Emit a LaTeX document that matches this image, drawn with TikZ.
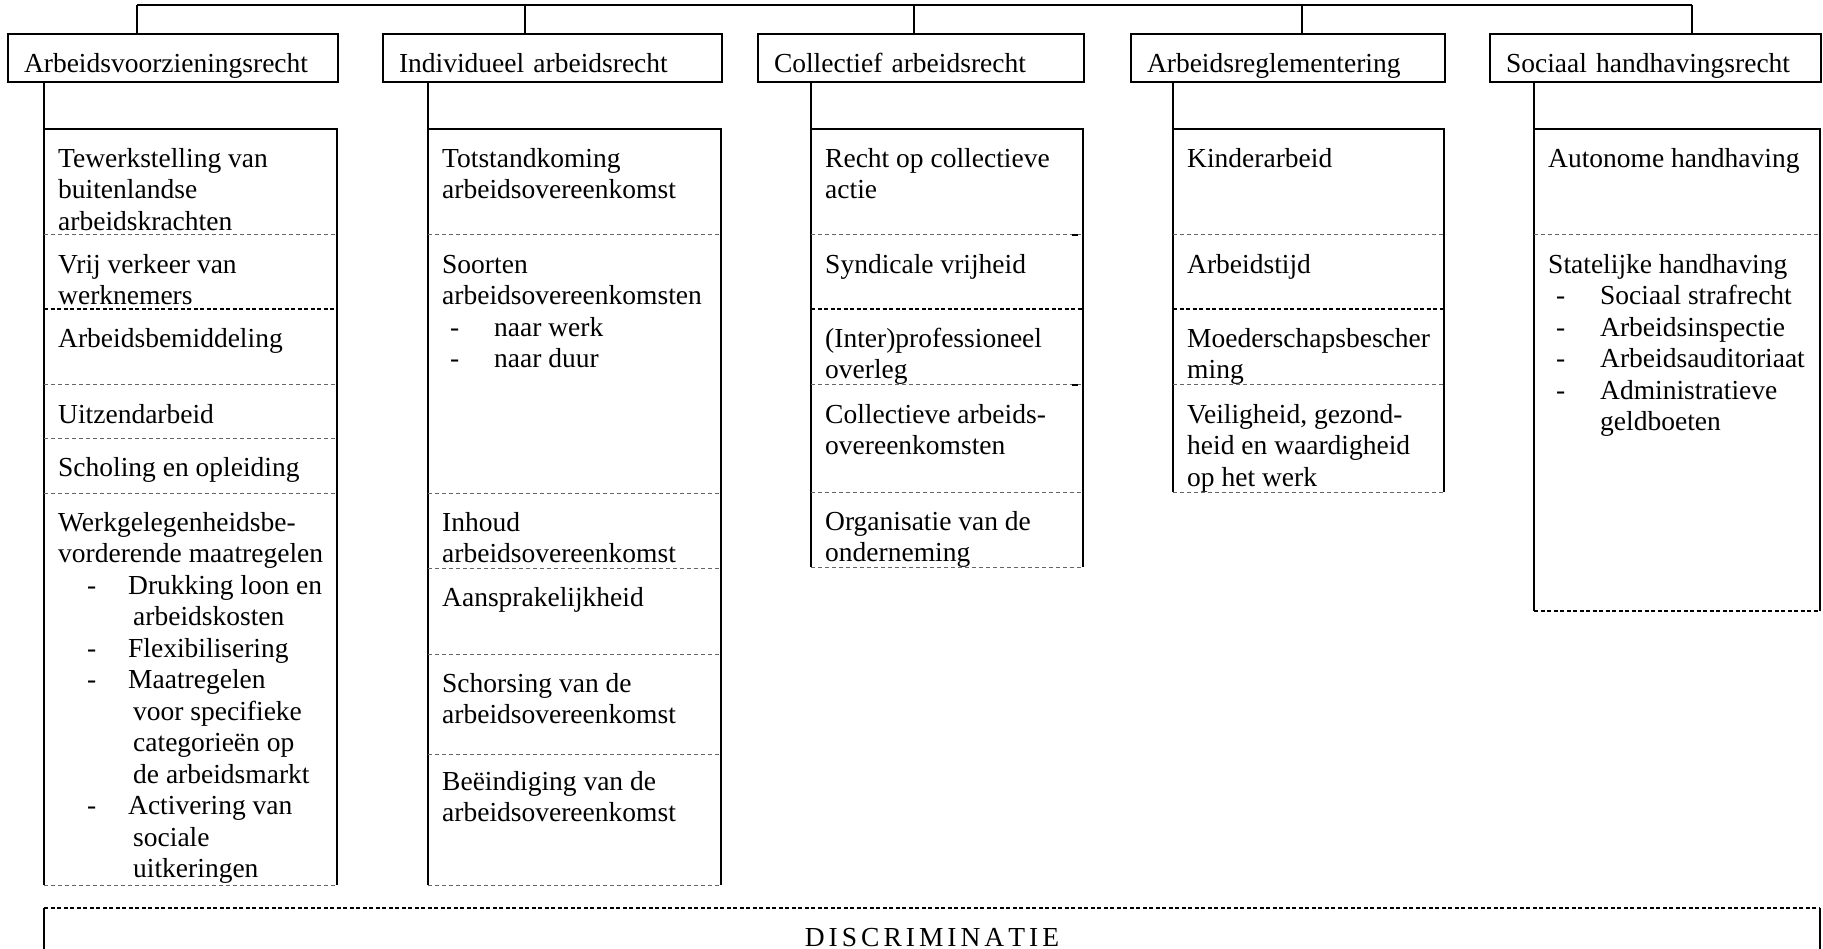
\documentclass[tikz,border=0pt]{standalone}
\usepackage{fontspec}
\setmainfont{Liberation Serif}

\newcommand{\fl}{\rule{0pt}{24pt}}
\newcommand{\itm}[1]{\hspace*{8pt}\makebox[44pt][l]{-}#1}
\newcommand{\itmw}[1]{\hspace*{29pt}\makebox[41pt][l]{-}#1}
\newcommand{\cnt}{\hspace*{75pt}}

\begin{document}
\begin{tikzpicture}[x=1pt, y=-1pt,
    hdr/.style={draw, line width=2pt, anchor=north west, minimum height=48pt,
                inner xsep=16pt, inner ysep=0pt, text height=39pt, text depth=9pt,
                align=left, font=\fontsize{27.5}{31.5}\selectfont},
    entry/.style={anchor=north west, inner sep=0pt, align=left,
                  font=\fontsize{27.5}{31.5}\selectfont},
    solidln/.style={line width=2pt},
    dashln/.style={draw=black!60, line width=1pt, dash pattern=on 4pt off 3pt},
    dashdk/.style={draw=black, line width=1.6pt, dash pattern=on 4pt off 2.5pt}
]
    \useasboundingbox (0,0) rectangle (1823,949);

    % headers
    \node[hdr, text width=298pt] (hA) at (7,33)    {Arbeidsvoorzieningsrecht};
    \node[hdr, text width=307pt] (hB) at (382,33)  {Individueel arbeidsrecht};
    \node[hdr, text width=294pt] (hC) at (757,33)  {Collectief arbeidsrecht};
    \node[hdr, text width=282pt] (hD) at (1130,33) {Arbeidsreglementering};
    \node[hdr, text width=299pt] (hE) at (1489,33) {Sociaal handhavingsrecht};

    % tree on top
    \coordinate (tA) at (137,5);
    \coordinate (tB) at (525,5);
    \coordinate (tC) at (914,5);
    \coordinate (tD) at (1302,5);
    \coordinate (tE) at (1692,5);
    \draw[solidln] (tA) -- (tE);
    \draw[solidln] (tA) -- (tA |- hA.north);
    \draw[solidln] (tB) -- (tB |- hB.north);
    \draw[solidln] (tC) -- (tC |- hC.north);
    \draw[solidln] (tD) -- (tD |- hD.north);
    \draw[solidln] (tE) -- (tE |- hE.north);

    % column frames
    \coordinate (aTL) at (44,129);   \coordinate (aTR) at (337,129);
    \coordinate (aBL) at (44,885);   \coordinate (aBR) at (337,885);
    \coordinate (bTL) at (428,129);  \coordinate (bTR) at (721,129);
    \coordinate (bBL) at (428,885);  \coordinate (bBR) at (721,885);
    \coordinate (cTL) at (811,129);  \coordinate (cTR) at (1083,129);
    \coordinate (cBL) at (811,567);  \coordinate (cBR) at (1083,567);
    \coordinate (dTL) at (1173,129); \coordinate (dTR) at (1444,129);
    \coordinate (dBL) at (1173,492); \coordinate (dBR) at (1444,492);
    \coordinate (eTL) at (1534,129); \coordinate (eTR) at (1820,129);
    \coordinate (eBL) at (1534,611); \coordinate (eBR) at (1820,611);

    \draw[solidln] (aTL |- hA.south) -- (aBL);
    \draw[solidln] (aTL) -- (aTR) -- (aBR);
    \draw[dashln] (aBL) -- (aBR);
    \draw[solidln] (bTL |- hB.south) -- (bBL);
    \draw[solidln] (bTL) -- (bTR) -- (bBR);
    \draw[dashln] (bBL) -- (bBR);
    \draw[solidln] (cTL |- hC.south) -- (cBL);
    \draw[solidln] (cTL) -- (cTR) -- (cBR);
    \draw[dashln] (cBL) -- (cBR);
    \draw[solidln] (dTL |- hD.south) -- (dBL);
    \draw[solidln] (dTL) -- (dTR) -- (dBR);
    \draw[dashln] (dBL) -- (dBR);
    \draw[solidln] (eTL |- hE.south) -- (eBL);
    \draw[solidln] (eTL) -- (eTR) -- (eBR);
    \draw[dashdk] (eBL) -- (eBR);

    % separators
    \draw[dashln] (44,235) -- (337,235);
    \draw[dashdk] (44,309) -- (337,309);
    \draw[dashln] (44,385) -- (337,385);
    \draw[dashln] (44,438) -- (337,438);
    \draw[dashln] (44,493) -- (337,493);

    \draw[dashln] (428,235) -- (721,235);
    \draw[dashln] (428,493) -- (721,493);
    \draw[dashln] (428,568) -- (721,568);
    \draw[dashln] (428,654) -- (721,654);
    \draw[dashln] (428,754) -- (721,754);

    \draw[dashln] (811,235) -- (1083,235);
    \draw[dashdk] (811,309) -- (1083,309);
    \draw[dashln] (811,385) -- (1083,385);
    \draw[dashln] (811,492) -- (1083,492);
    \draw[line width=1.6pt] (1072,235) -- (1078,235);
    \draw[line width=1.6pt] (1072,385) -- (1078,385);

    \draw[dashln] (1173,235) -- (1444,235);
    \draw[dashdk] (1173,309) -- (1444,309);
    \draw[dashln] (1173,385) -- (1444,385);

    \draw[dashln] (1534,235) -- (1820,235);

    % entries
    \node[entry] (a1) at (58,143) {\fl Tewerkstelling van\\buitenlandse\\arbeidskrachten};
    \node[entry] (a2) at (58,249) {\fl Vrij verkeer van\\werknemers};
    \node[entry] (a3) at (58,323) {\fl Arbeidsbemiddeling};
    \node[entry] (a4) at (58,399) {\fl Uitzendarbeid};
    \node[entry] (a5) at (58,452) {\fl Scholing en opleiding};
    \node[entry] (a6) at (58,507) {\fl Werkgelegenheidsbe-\\vorderende maatregelen\\
        \itmw{Drukking loon en}\\\cnt arbeidskosten\\\itmw{Flexibilisering}\\
        \itmw{Maatregelen}\\\cnt voor specifieke\\\cnt categorieën op\\
        \cnt de arbeidsmarkt\\\itmw{Activering van}\\\cnt sociale\\\cnt uitkeringen};

    \node[entry] (b1) at (442,143) {\fl Totstandkoming\\arbeidsovereenkomst};
    \node[entry] (b2) at (442,249) {\fl Soorten\\arbeidsovereenkomsten\\\itm{naar werk}\\\itm{naar duur}};
    \node[entry] (b3) at (442,507) {\fl Inhoud\\arbeidsovereenkomst};
    \node[entry] (b4) at (442,582) {\fl Aansprakelijkheid};
    \node[entry] (b5) at (442,668) {\fl Schorsing van de\\arbeidsovereenkomst};
    \node[entry] (b6) at (442,766) {\fl Beëindiging van de\\arbeidsovereenkomst};

    \node[entry] (c1) at (825,143) {\fl Recht op collectieve\\actie};
    \node[entry] (c2) at (825,249) {\fl Syndicale vrijheid};
    \node[entry] (c3) at (825,323) {\fl (Inter)professioneel\\overleg};
    \node[entry] (c4) at (825,399) {\fl Collectieve arbeids-\\overeenkomsten};
    \node[entry] (c5) at (825,506) {\fl Organisatie van de\\onderneming};

    \node[entry] (d1) at (1187,143) {\fl Kinderarbeid};
    \node[entry] (d2) at (1187,249) {\fl Arbeidstijd};
    \node[entry] (d3) at (1187,323) {\fl Moederschapsbescher\\ming};
    \node[entry] (d4) at (1187,399) {\fl Veiligheid, gezond-\\heid en waardigheid\\op het werk};

    \node[entry] (e1) at (1548,143) {\fl Autonome handhaving};
    \node[entry] (e2) at (1548,249) {\fl Statelijke handhaving\\\itm{Sociaal strafrecht}\\
        \itm{Arbeidsinspectie}\\\itm{Arbeidsauditoriaat}\\\itm{Administratieve}\\
        \hspace*{52pt}geldboeten};

    % bottom band
    \coordinate (fTL) at (44,908);  \coordinate (fTR) at (1820,908);
    \coordinate (fBL) at (44,952);  \coordinate (fBR) at (1820,952);
    \draw[dashdk] (fTL) -- (fTR);
    \draw[solidln] (fTL) -- (fBL);
    \draw[solidln] (fTR) -- (fBR);
    \node[font=\fontsize{27.5}{31.5}\selectfont, anchor=base, inner sep=0pt] (disc) at (932,946)
        {D\kern4pt I\kern4pt S\kern4pt C\kern4pt R\kern4pt I\kern4pt M\kern4pt I\kern4pt N\kern4pt A\kern4pt T\kern4pt I\kern4pt E};
\end{tikzpicture}
\end{document}
